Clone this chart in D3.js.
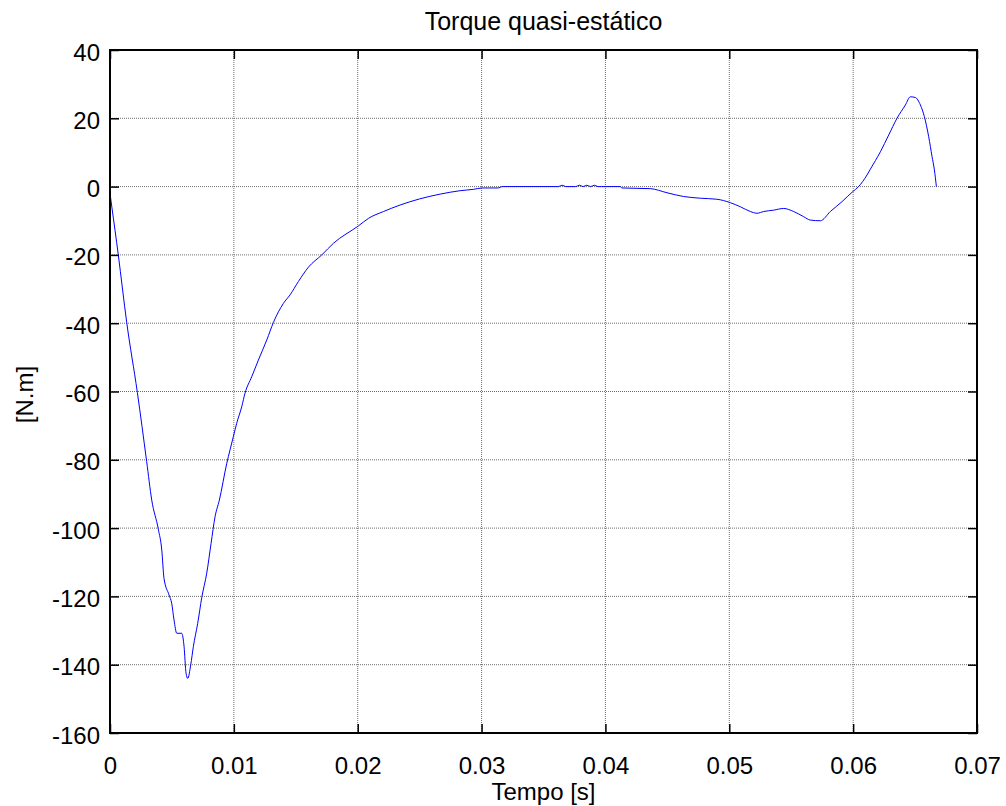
<!DOCTYPE html>
<html>
<head>
<meta charset="utf-8">
<script src="https://cdn.jsdelivr.net/npm/d3@7"></script>
<style>
  body { margin: 0; background: #fff; }
  text { font-family: "Liberation Sans", Arial, Helvetica, sans-serif; fill: #000; }
</style>
</head>
<body>
<svg id="chart" width="1006" height="806"></svg>
<script>
const titleText = "Torque quasi-estático";
const xLabel = "Tempo [s]";
const yLabel = "[N.m]";
const xTicks = [0, 0.01, 0.02, 0.03, 0.04, 0.05, 0.06, 0.07];
const xTickLabels = ["0", "0.01", "0.02", "0.03", "0.04", "0.05", "0.06", "0.07"];
const yTicks = [-160, -140, -120, -100, -80, -60, -40, -20, 0, 20, 40];
const yTickLabels = ["-160", "-140", "-120", "-100", "-80", "-60", "-40", "-20", "0", "20", "40"];

const time = [
  0, 0.00015, 0.00067, 0.00135, 0.00221, 0.00296, 0.00337, 0.0039, 0.00418, 0.00436,
  0.00477, 0.00498, 0.00517, 0.00539, 0.00579, 0.00598, 0.00614, 0.00628, 0.00652, 0.00673,
  0.00708, 0.00741, 0.00781, 0.00816, 0.00848, 0.00883, 0.00943, 0.00969, 0.00996, 0.01023,
  0.01064, 0.0109, 0.01144, 0.01198, 0.01266, 0.01319, 0.0140, 0.01454, 0.01521, 0.01602,
  0.0171, 0.01804, 0.02006, 0.02087, 0.02208, 0.02342, 0.025, 0.02666, 0.02827, 0.02935,
  0.03005, 0.03137, 0.03164, 0.0362, 0.0365, 0.0368, 0.0376, 0.0379, 0.0382, 0.0385,
  0.0388, 0.0391, 0.0394, 0.0397, 0.0412, 0.04133, 0.04362, 0.04497, 0.04631, 0.04766,
  0.049, 0.05008, 0.05089, 0.0517, 0.05224, 0.05277, 0.05358, 0.05439, 0.0552, 0.056,
  0.05654, 0.05735, 0.05816, 0.0591, 0.05996, 0.06044, 0.06112, 0.06139, 0.0622, 0.06287,
  0.06354, 0.06422, 0.06462, 0.06502, 0.06543, 0.06575, 0.0661, 0.06637, 0.06656, 0.06672];
const torque = [
  -2, -6, -20, -39.8, -60.3, -80.5, -91.8, -100.3, -106.4, -114.7,
  -119.6, -122, -126.9, -130.8, -130.8, -134.7, -142.5, -144, -140, -134.7,
  -127.9, -120.3, -113.2, -104.5, -96.7, -91.8, -81, -77.1, -73.2, -69.3,
  -64.4, -60.5, -55.7, -50.8, -44.9, -39.8, -34.2, -31.7, -27.8, -23.6,
  -20, -16.6, -11.5, -9.3, -7.3, -5.4, -3.6, -2.2, -1.2, -0.8,
  -0.4, -0.4, 0, 0, 0.4, 0, 0, 0.4, 0, 0.4,
  0, 0.4, 0, 0, 0, -0.4, -0.6, -1.8, -2.9, -3.4,
  -3.7, -4.7, -5.9, -7.3, -7.8, -7.3, -6.9, -6.4, -7.3, -8.8,
  -9.8, -10, -7.3, -4.4, -1.5, 0, 3.4, 5.1, 10.2, 15.1,
  20, 23.9, 26.3, 26.1, 23.9, 20.5, 14.6, 8.8, 4.9, 0];

const margin = { left: 110, right: 1006 - 977, top: 50, bottom: 806 - 733 };
const W = 1006, H = 806;
const svg = d3.select("#chart");

const x = d3.scaleLinear().domain([0, 0.07]).range([margin.left, W - margin.right]);
const y = d3.scaleLinear().domain([-160, 40]).range([H - margin.bottom, margin.top]);

const x0 = x.range()[0], x1 = x.range()[1], y0 = y.range()[0], y1 = y.range()[1];
const tickLen = 9;

// grid
const grid = svg.append("g");
grid.selectAll("line.gx").data(xTicks.slice(1, -1)).enter().append("line")
  .attr("x1", d => x(d)).attr("x2", d => x(d)).attr("y1", y1).attr("y2", y0)
  .attr("stroke", "#6e6e6e").attr("stroke-width", 1).attr("stroke-dasharray", "1,1");
grid.selectAll("line.gy").data(yTicks.slice(1, -1)).enter().append("line")
  .attr("y1", d => y(d)).attr("y2", d => y(d)).attr("x1", x0).attr("x2", x1)
  .attr("stroke", "#6e6e6e").attr("stroke-width", 1).attr("stroke-dasharray", "1,1");

// data line
const data = time.map((t, i) => [t, torque[i]]);
svg.append("path").datum(data)
  .attr("d", d3.line().curve(d3.curveMonotoneX).x(d => x(d[0])).y(d => y(d[1])))
  .attr("fill", "none").attr("stroke", "#0000ff").attr("stroke-width", 1);

// axes (MATLAB style: inward ticks on all sides)
const axB = svg.append("g").attr("transform", `translate(0,${y0})`)
  .call(d3.axisBottom(x).tickValues(xTicks).tickFormat((d, i) => xTickLabels[i]).tickSizeInner(-tickLen).tickSizeOuter(0).tickPadding(24));
const axT = svg.append("g").attr("transform", `translate(0,${y1})`)
  .call(d3.axisTop(x).tickValues(xTicks).tickFormat("").tickSizeInner(-tickLen).tickSizeOuter(0));
const axL = svg.append("g").attr("transform", `translate(${x0},0)`)
  .call(d3.axisLeft(y).tickValues(yTicks).tickFormat((d, i) => yTickLabels[i]).tickSizeInner(-tickLen).tickSizeOuter(0).tickPadding(10));
const axR = svg.append("g").attr("transform", `translate(${x1},0)`)
  .call(d3.axisRight(y).tickValues(yTicks).tickFormat("").tickSizeInner(-tickLen).tickSizeOuter(0));

[axB, axT, axL, axR].forEach(a => {
  a.select(".domain").remove();
  a.selectAll(".tick line").attr("stroke", "#000").attr("stroke-width", 1.5);
  a.selectAll(".tick text").style("font-size", "24px").style("font-family", '"Liberation Sans", Arial, sans-serif').attr("fill", "#000");
});
axL.selectAll(".tick text").attr("dy", "0.42em");

// box
svg.append("rect").attr("x", x0).attr("y", y1).attr("width", x1 - x0).attr("height", y0 - y1)
  .attr("fill", "none").attr("stroke", "#000").attr("stroke-width", 2);

// labels
svg.append("text").attr("x", (x0 + x1) / 2).attr("y", 30).attr("text-anchor", "middle")
  .style("font-size", "25px").text(titleText);
svg.append("text").attr("x", (x0 + x1) / 2).attr("y", 800).attr("text-anchor", "middle")
  .style("font-size", "24px").text(xLabel);
svg.append("text").attr("transform", `translate(33,${(y0 + y1) / 2 + 3}) rotate(-90)`).attr("text-anchor", "middle")
  .style("font-size", "24px").text(yLabel);
</script>
</body>
</html>
